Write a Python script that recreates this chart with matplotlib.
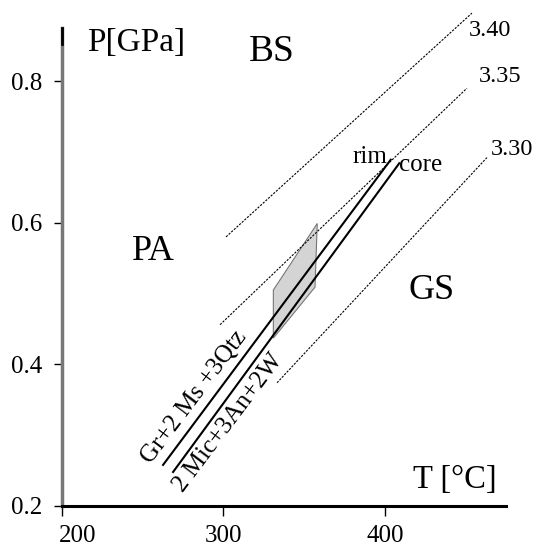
import matplotlib
matplotlib.use("Agg")
import matplotlib.pyplot as plt
import matplotlib.transforms as mtransforms

plt.rcParams['font.family'] = ['Liberation Serif', 'DejaVu Serif']

# density isopleths (dotted), g/cm3
iso_labels = ['3.40', '3.35', '3.30']
iso_T = [[301.6, 453.9], [297.9, 450.8], [333.2, 463.2]]
iso_P = [[0.580, 0.896], [0.456, 0.790], [0.374, 0.692]]
iso_label_T = [465.1, 471.3, 478.7]
iso_label_P = [0.872, 0.807, 0.703]

# reaction Gr+2Ms+3Qtz = 2Mic+3An+2W for rim and core
rim_T = [262.6, 403.6]
rim_P = [0.258, 0.689]
core_T = [268.8, 408.9]
core_P = [0.248, 0.684]

# estimated P-T field (shaded)
box_T = [330.9, 358.1, 356.7, 330.9]
box_P = [0.505, 0.599, 0.509, 0.437]

fig = plt.figure(figsize=(5.41, 5.46), dpi=100)
ax = fig.add_axes([0.1146, 0.0733, 0.8207, 0.8754])

for t, p in zip(iso_T, iso_P):
    ax.plot(t, p, color='black', lw=0.8, ls=(0, (2, 1.2)), clip_on=False)
for lab, t, p in zip(iso_labels, iso_label_T, iso_label_P):
    ax.text(t, p, lab, fontsize=17.5, ha='center', va='center')

ax.fill(box_T, box_P, facecolor='#d4d4d4', edgecolor='#777777', lw=0.8, zorder=1)
ax.plot(rim_T, rim_P, color='black', lw=1.5)
ax.plot(core_T, core_P, color='black', lw=1.5)

ax.text(390.8, 0.693, 'rim', fontsize=18, ha='center', va='center')
ax.text(422, 0.681, 'core', fontsize=18, ha='center', va='center')
ax.text(282.0, 0.354, 'Gr+2 Ms +3Qtz', fontsize=18, rotation=53,
        rotation_mode='anchor', ha='center', va='center')
ax.text(303.0, 0.318, '2 Mic+3An+2W', fontsize=18, rotation=53,
        rotation_mode='anchor', ha='center', va='center')

ax.text(330.1, 0.841, 'BS', fontsize=27, ha='center', va='center')
ax.text(256.4, 0.560, 'PA', fontsize=26, ha='center', va='center')
ax.text(429.2, 0.505, 'GS', fontsize=26, ha='center', va='center')
ax.text(245.8, 0.854, 'P[GPa]', fontsize=24, ha='center', va='center')
ax.text(443.4, 0.237, 'T [°C]', fontsize=23.5, ha='center', va='center')

ax.set_xlim(200, 475)
ax.set_ylim(0.2, 0.875)
ax.set_xticks([200, 300, 400])
ax.set_yticks([0.2, 0.4, 0.6, 0.8])
ax.set_yticklabels(['0.2', '0.4', '0.6', '0.8'])
ax.tick_params(axis='x', length=7, width=1, labelsize=18, pad=7)
ax.tick_params(axis='y', length=6, width=1, labelsize=18, pad=8)

# the 200 label sits a bit right of the corner in the original
lbl = ax.get_xticklabels()[0]
lbl.set_transform(lbl.get_transform() + mtransforms.ScaledTranslation(0.16, 0, fig.dpi_scale_trans))

for s in ['top', 'right']:
    ax.spines[s].set_visible(False)
ax.spines['left'].set_color('#777777')
ax.spines['left'].set_linewidth(2.5)
ax.spines['bottom'].set_linewidth(2.2)
ax.plot([200, 200], [0.852, 0.875], color='black', lw=2, clip_on=False, zorder=5)

fig.savefig('out.png', dpi=100)
